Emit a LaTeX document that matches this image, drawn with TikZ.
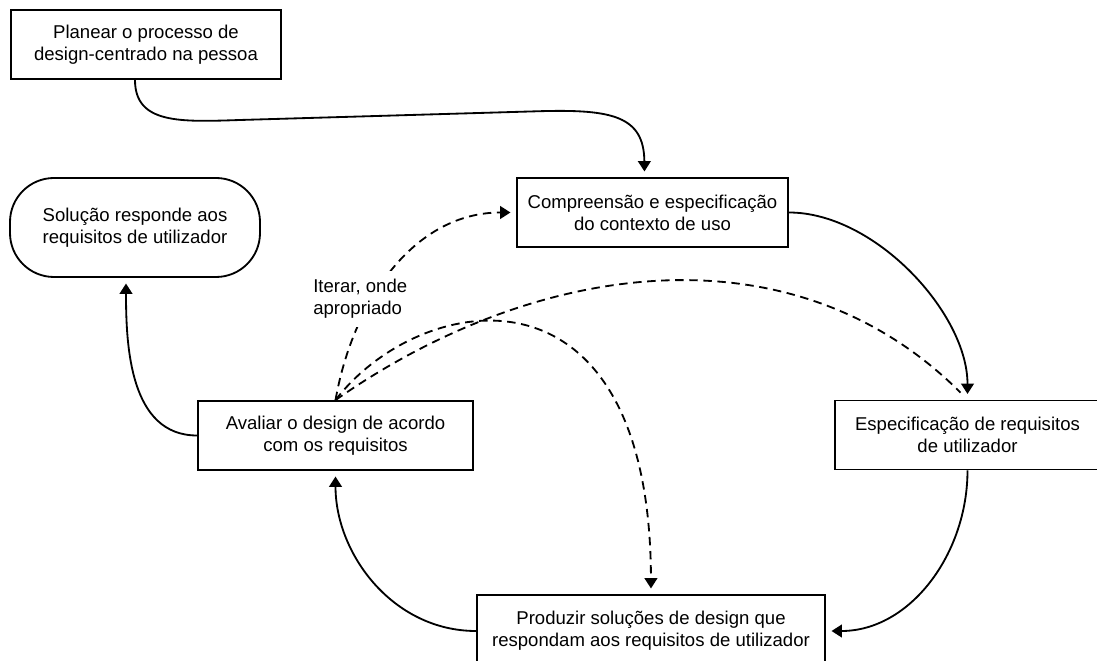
\documentclass[tikz,border=0pt]{standalone}
\usepackage{fontspec}
\setmainfont{Liberation Sans}
\usetikzlibrary{arrows.meta, positioning, calc}

\tikzset{
  % caixa de uma etapa do processo
  etapa/.style={draw=black, line width=1.3pt, minimum height=1.725cm, align=center,
    font=\fontsize{13.2}{15.6}\selectfont, inner sep=0pt, fill=white},
  % resultado final (extremos arredondados)
  resultado/.style={etapa, minimum height=2.475cm, rounded corners=1.1cm},
  % ligacoes
  fluxo/.style={-{Triangle[length=2.6mm, width=3.2mm]}, line width=1.3pt, shorten >=4pt},
  iter/.style={fluxo, dash pattern=on 6pt off 4pt},
  % etiqueta solta
  nota/.style={font=\fontsize{13.2}{15.6}\selectfont, align=left, fill=white, inner sep=6pt},
}

\begin{document}
\begin{tikzpicture}
  \useasboundingbox (0,0) rectangle (27.425,-16.525);

  \node[etapa, minimum width=6.75cm] (plan) at (3.65,-1.1125) {Planear o processo de\\design-centrado na pessoa};
  \node[etapa, minimum width=6.775cm] (comp) at (16.3125,-5.3125) {Compreensão e especificação\\do contexto de uso};
  \node[resultado, minimum width=6.25cm] (sol) at (3.375,-5.6875) {Solução responde aos\\requisitos de utilizador};
  \node[etapa, minimum width=6.875cm] (aval) at (8.3875,-10.8875) {Avaliar o design de acordo\\com os requisitos};
  \node[etapa, minimum width=6.625cm] (espec) at (24.1875,-10.875) {Especificação de requisitos\\de utilizador};
  \node[etapa, minimum width=8.7cm, minimum height=1.8cm] (prod) at (16.275,-15.775) {Produzir soluções de design que\\respondam aos requisitos de utilizador};

  % iteracoes
  \draw[iter] (aval.north) to[out=80, in=180] (comp.west);
  \draw[iter, -, shorten >=7pt] (aval.north) to[out=35, in=135] (espec.north);
  \draw[iter] (aval.north) .. controls (10.5,-7.25) and (16.25,-6.25) .. (prod.north);
  \node[nota, anchor=west] (iterar) at (7.615,-7.475) {Iterar, onde\\apropriado};

  % ciclo principal
  \draw[fluxo] ([xshift=-2.75mm]plan.south) .. controls (3.375,-3.1) and (4.5,-3.05) .. (6,-3.0)
    -- (13.5,-2.78) .. controls (15.3,-2.73) and (16.1,-2.9) .. ([xshift=-2mm]comp.north);
  \draw[fluxo] (comp.east) to[out=0, in=90, looseness=0.85] (espec.north);
  \draw[fluxo] (espec.south) to[out=-90, in=0] (prod.east);
  \draw[fluxo] (prod.west) to[out=180, in=-90] (aval.south);
  \draw[fluxo] (aval.west) to[out=180, in=-90] ([xshift=-2.25mm]sol.south);
\end{tikzpicture}
\end{document}
